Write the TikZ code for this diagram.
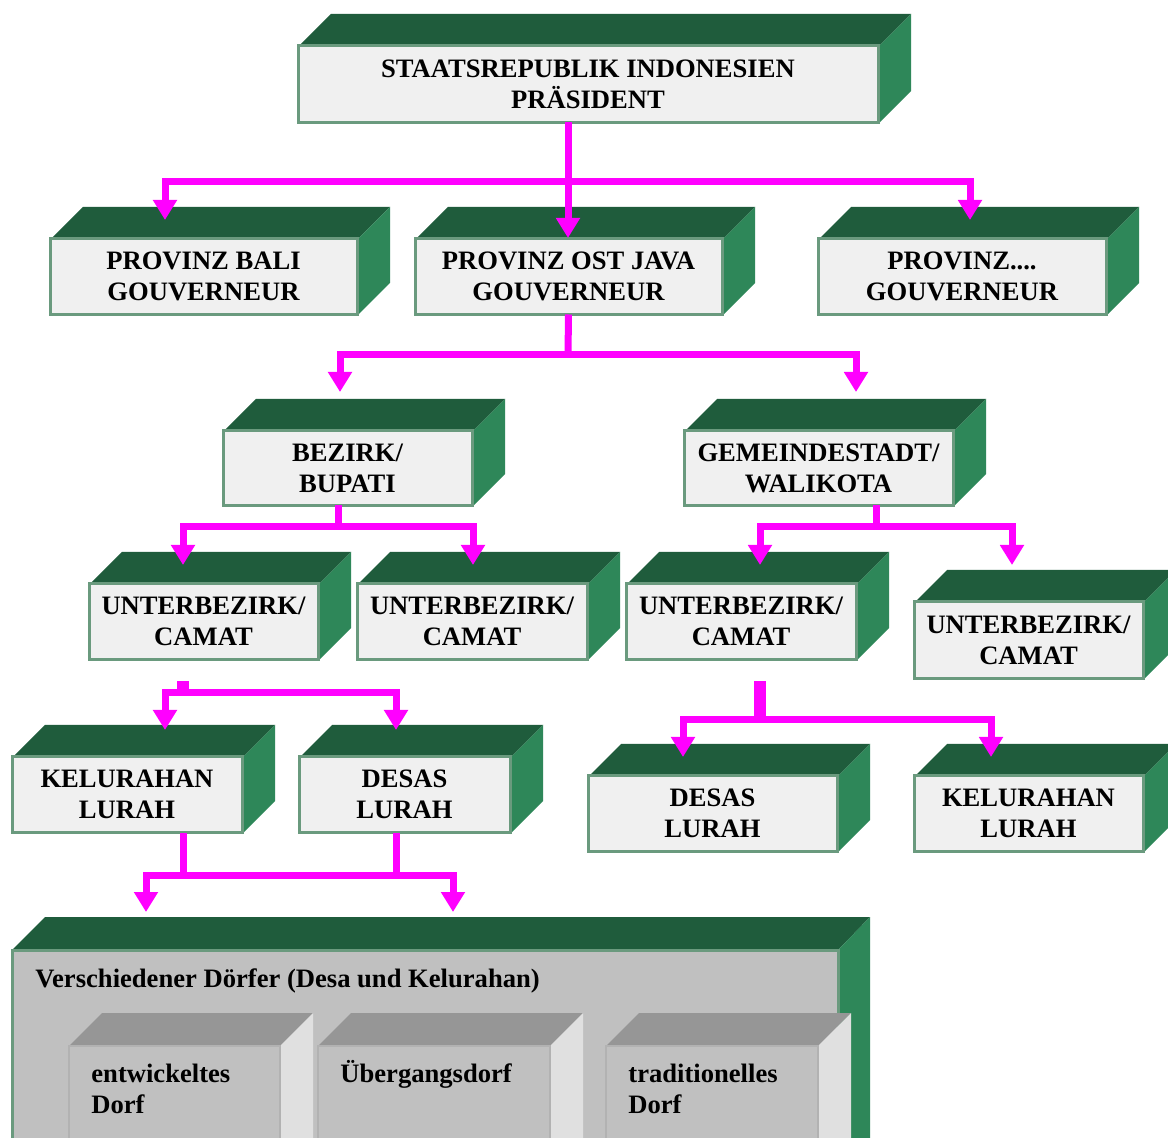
\documentclass[tikz,border=0pt]{standalone}
\usepackage{fontspec}
\setmainfont{Liberation Serif}
\usetikzlibrary{arrows.meta,calc}

\definecolor{topgreen}{HTML}{1F5C3C}
\definecolor{sidegreen}{HTML}{2E8759}
\definecolor{frontgray}{HTML}{F0F0F0}
\definecolor{edgegreen}{HTML}{6A9A7E}
\definecolor{villgray}{HTML}{C0C0C0}
\definecolor{villtop}{HTML}{969696}
\definecolor{villside}{HTML}{E0E0E0}
\definecolor{villedge}{HTML}{B2B2B2}
\definecolor{linkpink}{HTML}{FF00FF}

\tikzset{
  labelfont/.style={font=\fontsize{13.3pt}{15.5pt}\selectfont\bfseries},
  front/.style={draw=edgegreen, line width=1.5pt, fill=frontgray, inner sep=0pt,
    outer sep=0pt, align=center, labelfont},
  topface/.style={fill=topgreen},
  sideface/.style={fill=sidegreen},
  mline/.style={draw=linkpink, line width=3.5pt, line join=miter},
  marrow/.style={mline, -{Triangle[width=11.5pt,length=10pt]}},
  mstub/.style={draw=linkpink, line width=6pt},
}

% 3D office box: name, left, top, right, bottom (front face), label
\newcommand\officebox[6]{%
  \fill[topface] (#2,#3) -- ++(33,-33) -- ++({#4-#2},0) -- (#4,#3) -- cycle;
  \fill[sideface] (#4,#3) -- ++(33,-33) -- ++(0,{#5-#3}) -- (#4,#5) -- cycle;
  \node[front, minimum width={(#4-#2)*0.5pt}, minimum height={(#5-#3)*0.5pt}]
    (#1) at ({(#2+#4)/2},{(#3+#5)/2-1.5}) {#6};
}

% grey village-type box: name, left, top, right, offset of last baseline, label
\newcommand\villagebox[6]{%
  \fill[villtop] (#2,#3) -- ++(33,-33) -- ++({#4-#2},0) -- (#4,#3) -- cycle;
  \fill[villside] (#4,#3) -- ++(33,-33) -- ++(0,200) -- (#4,1180) -- cycle;
  \filldraw[fill=villgray, draw=villedge, line width=1pt] (#2,#3) rectangle (#4,1180);
  \node[labelfont, anchor=base west, align=left, inner sep=0pt] (#1)
    at ({#2+22},{#3+#5}) {#6};
}

\begin{document}
\begin{tikzpicture}[x=0.5pt, y=-0.5pt]
\clip (0,0) rectangle (1168,1138);
\fill[white] (0,0) rectangle (1168,1138);

% ---- government hierarchy ----
\officebox{pres}{298}{47}{878}{124}{STAATSREPUBLIK INDONESIEN\\PRÄSIDENT}

\officebox{bali}{50}{240}{357}{316}{PROVINZ BALI\\GOUVERNEUR}
\officebox{java}{415}{240}{722}{316}{PROVINZ OST JAVA\\GOUVERNEUR}
\officebox{prov}{818}{240}{1106}{316}{PROVINZ....\\GOUVERNEUR}

\officebox{bez}{223}{432}{472}{507}{BEZIRK/\\BUPATI}
\officebox{gem}{684}{432}{953}{507}{GEMEINDESTADT/\\WALIKOTA}

\officebox{ubA}{89}{585}{318}{661}{UNTERBEZIRK/\\CAMAT}
\officebox{ubB}{357}{585}{587}{661}{UNTERBEZIRK/\\CAMAT}
\officebox{ubC}{626}{585}{856}{661}{UNTERBEZIRK/\\CAMAT}
\officebox{ubD}{914}{603}{1143}{680}{UNTERBEZIRK/\\CAMAT}

\officebox{kelA}{12}{758}{242}{834}{KELURAHAN\\LURAH}
\officebox{desA}{299}{758}{510}{834}{DESAS\\LURAH}
\officebox{desB}{588}{777}{837}{853}{DESAS\\LURAH}
\officebox{kelB}{914}{777}{1143}{853}{KELURAHAN\\LURAH}

% ---- village container ----
\fill[topgreen] (12,950) -- (45,917) -- (870,917) -- (838,950) -- cycle;
\fill[sidegreen] (838,950) -- (870,917) -- (870,1180) -- (838,1180) -- cycle;
\filldraw[fill=villgray, draw=edgegreen, line width=1.5pt] (12,950) rectangle (838,1180);
\node[labelfont, anchor=base west, inner sep=0pt] (dorf) at (35,987)
  {Verschiedener Dörfer (Desa und Kelurahan)};

\villagebox{dorfA}{69}{1046}{280}{67}{entwickeltes\\Dorf}
\villagebox{dorfB}{318}{1046}{550}{36}{Übergangsdorf}
\villagebox{dorfC}{606}{1046}{818}{67}{traditionelles\\Dorf}

% ---- connectors ----
\coordinate (jA) at (568,182);
\coordinate (tBali) at (165,220);
\coordinate (tJava) at (568,238);
\coordinate (tProv) at (970,220);
\draw[marrow] (pres.south -| tJava) -- (tJava);
\draw[marrow] (jA) -| (tBali);
\draw[marrow] (jA) -| (tProv);

\coordinate (jB) at (568,355);
\coordinate (tBez) at (340,392);
\coordinate (tGem) at (856,392);
\draw[mline] (java.south) -- (jB);
\draw[marrow] (jB) -| (tBez);
\draw[marrow] (jB) -| (tGem);

\coordinate (jC) at (338,527);
\coordinate (tUbA) at (183,565);
\coordinate (tUbB) at (473,565);
\draw[mline] (bez.south -| jC) -- (jC);
\draw[marrow] (jC) -| (tUbA);
\draw[marrow] (jC) -| (tUbB);

\coordinate (jD) at (876,527);
\coordinate (tUbC) at (760,565);
\coordinate (tUbD) at (1012,565);
\draw[mline] (gem.south -| jD) -- (jD);
\draw[marrow] (jD) -| (tUbC);
\draw[marrow] (jD) -| (tUbD);

\coordinate (jE) at (183,693);
\coordinate (tKelA) at (165,730);
\coordinate (tDesA) at (396,730);
\draw[mstub] ([yshift=-11pt]ubA.south -| jE) -- ([yshift=-1.75pt]jE);
\draw[marrow] (jE) -| (tKelA);
\draw[marrow] (jE) -| (tDesA);

\coordinate (jF) at (760,720);
\coordinate (tDesB) at (683,757);
\coordinate (tKelB) at (991,757);
\draw[mstub] ([yshift=-11pt]ubC.south -| jF) -- (jF);
\draw[marrow] (jF) -| (tDesB);
\draw[marrow] (jF) -| (tKelB);

\coordinate (jG) at (183,875);
\coordinate (jH) at (396,875);
\coordinate (tDorfA) at (146,912);
\coordinate (tDorfB) at (453,912);
\draw[mline] (kelA.south -| jG) -- (jG);
\draw[mline] (desA.south -| jH) -- (jH);
\draw[marrow] (jH) -| (tDorfA);
\draw[marrow] (jG) -| (tDorfB);
\end{tikzpicture}
\end{document}
